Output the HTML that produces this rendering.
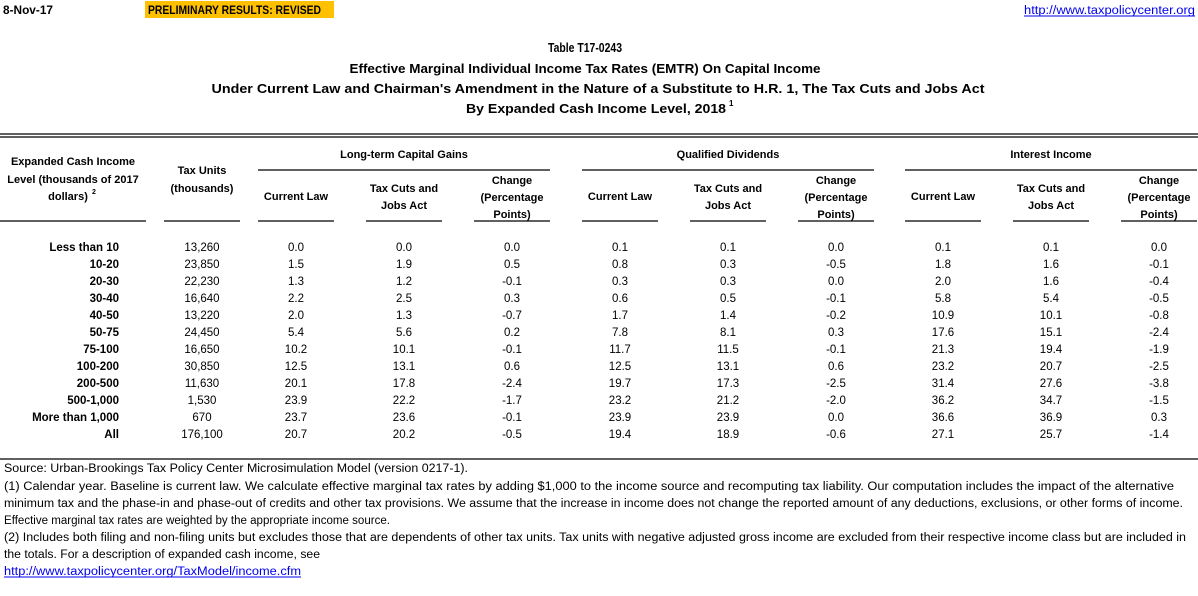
<!DOCTYPE html>
<html><head><meta charset="utf-8"><style>
html,body{margin:0;padding:0;background:#fff;}
svg{display:block;font-family:"Liberation Sans",Arial,sans-serif;}
</style></head><body>
<svg id="t" width="1198" height="596" viewBox="0 0 1198 596" xmlns="http://www.w3.org/2000/svg">
<g>
<text x="3" y="14" font-size="11.5" font-weight="bold" textLength="50" lengthAdjust="spacingAndGlyphs">8-Nov-17</text>
<rect x="145" y="1" width="189" height="17" fill="#FFC000"/>
<text x="148" y="14" font-size="11.5" font-weight="bold" textLength="173" lengthAdjust="spacingAndGlyphs">PRELIMINARY RESULTS: REVISED</text>
<a><text x="1024" y="14" font-size="11.5" fill="#0000EE" textLength="171" lengthAdjust="spacingAndGlyphs">http://www.taxpolicycenter.org</text></a>
<line x1="1024" y1="16" x2="1195" y2="16" stroke="#0000EE" stroke-width="1"/>
</g>
<g font-weight="bold" font-size="13" text-anchor="middle">
<text x="585" y="52" textLength="74" lengthAdjust="spacingAndGlyphs">Table T17-0243</text>
<text x="585" y="73" textLength="471" lengthAdjust="spacingAndGlyphs">Effective Marginal Individual Income Tax Rates (EMTR) On Capital Income</text>
<text x="598" y="93" textLength="773" lengthAdjust="spacingAndGlyphs">Under Current Law and Chairman's Amendment in the Nature of a Substitute to H.R. 1, The Tax Cuts and Jobs Act</text>
<text x="596" y="113" textLength="260" lengthAdjust="spacingAndGlyphs">By Expanded Cash Income Level, 2018</text>
<text x="729" y="106" font-size="8" text-anchor="start">1</text>
</g>
<line x1="0" y1="134" x2="1198" y2="134" stroke="#000" stroke-width="1.2"/>
<line x1="0" y1="137" x2="1198" y2="137" stroke="#000" stroke-width="1.2"/>
<g id="hdr" font-weight="bold" font-size="11" text-anchor="middle"></g>
<g id="body" font-size="11.5" text-anchor="middle"></g>
<line x1="0" y1="459" x2="1198" y2="459" stroke="#000" stroke-width="1.2"/>
<g font-size="11.5">
<text x="4" y="472" textLength="464" lengthAdjust="spacingAndGlyphs">Source: Urban-Brookings Tax Policy Center Microsimulation Model (version 0217-1).</text>
<text x="4" y="490" textLength="1170" lengthAdjust="spacingAndGlyphs">(1) Calendar year. Baseline is current law. We calculate effective marginal tax rates by adding $1,000 to the income source and recomputing tax liability. Our computation includes the impact of the alternative</text>
<text x="4" y="507" textLength="1179" lengthAdjust="spacingAndGlyphs">minimum tax and the phase-in and phase-out of credits and other tax provisions. We assume that the increase in income does not change the reported amount of any deductions, exclusions, or other forms of income.</text>
<text x="4" y="524" textLength="386" lengthAdjust="spacingAndGlyphs">Effective marginal tax rates are weighted by the appropriate income source.</text>
<text x="4" y="541" textLength="1182" lengthAdjust="spacingAndGlyphs">(2) Includes both filing and non-filing units but excludes those that are dependents of other tax units. Tax units with negative adjusted gross income are excluded from their respective income class but are included in</text>
<text x="4" y="558" textLength="316" lengthAdjust="spacingAndGlyphs">the totals. For a description of expanded cash income, see</text>
<a><text x="4" y="575" fill="#0000EE" textLength="297" lengthAdjust="spacingAndGlyphs">http://www.taxpolicycenter.org/TaxModel/income.cfm</text></a>
<line x1="4" y1="577" x2="301" y2="577" stroke="#0000EE" stroke-width="1"/>
</g>
</svg>
<script>
const incomeLevels=["Less than 10","10-20","20-30","30-40","40-50","50-75","75-100","100-200","200-500","500-1,000","More than 1,000","All"];
const taxUnits=["13,260","23,850","22,230","16,640","13,220","24,450","16,650","30,850","11,630","1,530","670","176,100"];
const ltcgCurrent=[0.0,1.5,1.3,2.2,2.0,5.4,10.2,12.5,20.1,23.9,23.7,20.7];
const ltcgTcja=[0.0,1.9,1.2,2.5,1.3,5.6,10.1,13.1,17.8,22.2,23.6,20.2];
const ltcgChange=[0.0,0.5,-0.1,0.3,-0.7,0.2,-0.1,0.6,-2.4,-1.7,-0.1,-0.5];
const qdCurrent=[0.1,0.8,0.3,0.6,1.7,7.8,11.7,12.5,19.7,23.2,23.9,19.4];
const qdTcja=[0.1,0.3,0.3,0.5,1.4,8.1,11.5,13.1,17.3,21.2,23.9,18.9];
const qdChange=[0.0,-0.5,0.0,-0.1,-0.2,0.3,-0.1,0.6,-2.5,-2.0,0.0,-0.6];
const intCurrent=[0.1,1.8,2.0,5.8,10.9,17.6,21.3,23.2,31.4,36.2,36.6,27.1];
const intTcja=[0.1,1.6,1.6,5.4,10.1,15.1,19.4,20.7,27.6,34.7,36.9,25.7];
const intChange=[0.0,-0.1,-0.4,-0.5,-0.8,-2.4,-1.9,-2.5,-3.8,-1.5,0.3,-1.4];

const NS="http://www.w3.org/2000/svg";
function mk(tag,attrs,parent,txt){const e=document.createElementNS(NS,tag);for(const k in attrs)e.setAttribute(k,attrs[k]);if(txt!==undefined)e.textContent=txt;parent.appendChild(e);return e;}
const hdr=document.getElementById('hdr'),body=document.getElementById('body');
const colStarts=[258,366,474,582,690,798,905,1013,1121];
const colW=76;
function hl(x1,x2,y){const l=mk('line',{x1:x1,x2:x2,y1:y,y2:y,stroke:'#000','stroke-width':1.2},hdr);}
hl(0,146,221);hl(164,240,221);
colStarts.forEach(x=>hl(x,x+colW,221));
const groups=["Long-term Capital Gains","Qualified Dividends","Interest Income"];
groups.forEach((g,i)=>{const x0=colStarts[i*3],x1=colStarts[i*3+2]+colW;hl(x0,x1,170);
 const t=mk('text',{x:(x0+x1)/2,y:158},hdr,g);
 const c=[x0+colW/2,colStarts[i*3+1]+colW/2,colStarts[i*3+2]+colW/2];
 mk('text',{x:c[0],y:200},hdr,'Current Law');
 mk('text',{x:c[1],y:192},hdr,'Tax Cuts and');mk('text',{x:c[1],y:209},hdr,'Jobs Act');
 mk('text',{x:c[2],y:184},hdr,'Change');mk('text',{x:c[2],y:201},hdr,'(Percentage');mk('text',{x:c[2],y:218},hdr,'Points)');
});
mk('text',{x:73,y:165},hdr,'Expanded Cash Income');
mk('text',{x:73,y:183},hdr,'Level (thousands of 2017');
mk('text',{x:68,y:200},hdr,'dollars)');
mk('text',{x:92,y:194,'font-size':7,'text-anchor':'start'},hdr,'2');
mk('text',{x:202,y:174},hdr,'Tax Units');
mk('text',{x:202,y:192},hdr,'(thousands)');
const series=[ltcgCurrent,ltcgTcja,ltcgChange,qdCurrent,qdTcja,qdChange,intCurrent,intTcja,intChange];
function rowY(i){return 251+i*17;}
incomeLevels.forEach((lab,i)=>{
 const g=mk('g',{},body);
 
 
 mk('text',{x:119,y:rowY(i),'text-anchor':'end','font-weight':'bold'},g,lab);
 mk('text',{x:202,y:rowY(i)},g,taxUnits[i]);
 series.forEach((s,j)=>{const t=mk('text',{x:colStarts[j]+colW/2,y:rowY(i)},g,s[i].toFixed(1));
  
  });
});
</script>
</body></html>
